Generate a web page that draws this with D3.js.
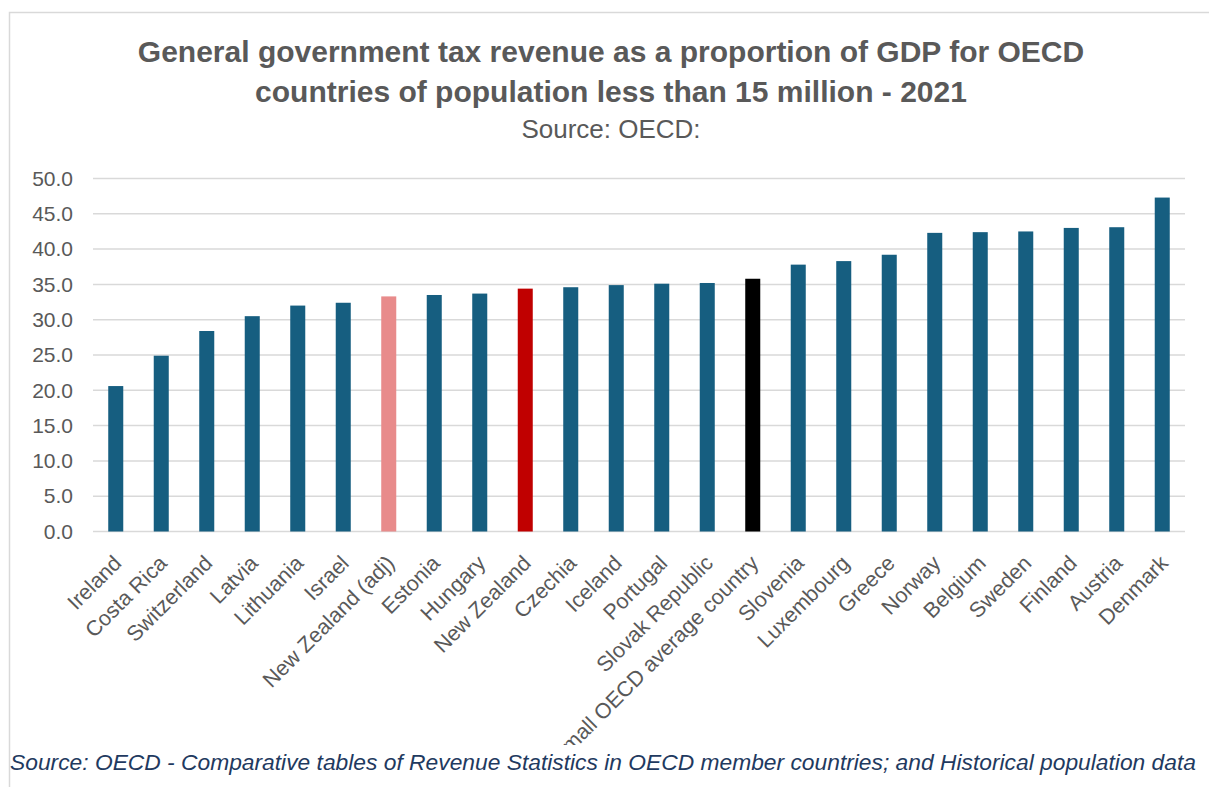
<!DOCTYPE html>
<html>
<head>
<meta charset="utf-8">
<script src="https://cdn.jsdelivr.net/npm/d3@7"></script>
<style>
  html, body { margin: 0; padding: 0; background: #fff; }
  svg { display: block; }
</style>
</head>
<body>
<svg id="chart" width="1209" height="787"></svg>
<script>
const categories = ["Ireland","Costa Rica","Switzerland","Latvia","Lithuania","Israel","New Zealand (adj)","Estonia","Hungary","New Zealand","Czechia","Iceland","Portugal","Slovak Republic","Small OECD average country","Slovenia","Luxembourg","Greece","Norway","Belgium","Sweden","Finland","Austria","Denmark"];
const values = [20.6,24.9,28.4,30.5,32.0,32.4,33.3,33.5,33.7,34.4,34.6,34.9,35.1,35.2,35.8,37.8,38.3,39.2,42.3,42.4,42.5,43.0,43.1,47.3];
const barColors = ["#165e80","#165e80","#165e80","#165e80","#165e80","#165e80","#e88b8b","#165e80","#165e80","#c00000","#165e80","#165e80","#165e80","#165e80","#000000","#165e80","#165e80","#165e80","#165e80","#165e80","#165e80","#165e80","#165e80","#165e80"];
const yTicks = [0,5,10,15,20,25,30,35,40,45,50];
const titleLines = ["General government tax revenue as a proportion of GDP for OECD","countries of population less than 15 million - 2021"];
const subtitle = "Source: OECD:";
const footnote = "Source: OECD - Comparative tables of Revenue Statistics in OECD member countries; and Historical population data";

const svg = d3.select("#chart");
const W = 1209;
const FONT = "Liberation Sans, Arial, sans-serif";

// chart area border
svg.append("rect").attr("x", 9.5).attr("y", 12.5).attr("width", 1240).attr("height", 800)
  .attr("fill", "none").attr("stroke", "#d9d9d9").attr("stroke-width", 1.5);

const clip = svg.append("defs").append("clipPath").attr("id", "clipArea");
clip.append("rect").attr("x", 0).attr("y", 0).attr("width", W).attr("height", 745);

const g = svg.append("g").attr("clip-path", "url(#clipArea)");

// title
g.append("text").attr("x", 611).attr("y", 62).attr("text-anchor", "middle")
  .attr("font-family", FONT).attr("font-weight", "bold")
  .attr("font-size", 30).attr("fill", "#595959")
  .selectAll("tspan").data(titleLines).join("tspan")
  .attr("x", 611).attr("dy", (d, i) => i === 0 ? 0 : 40).text(d => d);

g.append("text").attr("x", 611).attr("y", 138).attr("text-anchor", "middle")
  .attr("font-family", FONT)
  .attr("font-size", 26).attr("fill", "#595959").text(subtitle);

const x = d3.scaleBand().domain(categories).range([93, 1185]).paddingInner(0.67).paddingOuter(0.335);
const y = d3.scaleLinear().domain([0, 50]).range([531.5, 178.5]);

// gridlines
g.append("g").selectAll("line").data(yTicks).join("line")
  .attr("x1", 93).attr("x2", 1185)
  .attr("y1", d => y(d)).attr("y2", d => y(d))
  .attr("stroke", "#d9d9d9").attr("stroke-width", 1.5);

// y axis labels
const yAxis = d3.axisLeft(y).tickValues(yTicks).tickFormat(d3.format(".1f")).tickSize(0).tickPadding(0);
const ya = g.append("g").attr("transform", "translate(73,0)").call(yAxis);
ya.select(".domain").remove();
ya.selectAll("text").attr("font-family", FONT)
  .attr("font-size", 21).attr("fill", "#595959");

// bars
g.append("g").selectAll("rect").data(categories).join("rect")
  .attr("x", d => x(d)).attr("width", x.bandwidth())
  .attr("y", (d, i) => y(values[i])).attr("height", (d, i) => y(0) - y(values[i]))
  .attr("fill", (d, i) => barColors[i]);

// x labels
const xAxis = d3.axisBottom(x).tickSize(0).tickPadding(0);
const xa = g.append("g").attr("transform", `translate(0,${y(0)})`).call(xAxis);
xa.select(".domain").remove();
xa.selectAll("text")
  .attr("font-family", FONT)
  .attr("font-size", 21.5).attr("fill", "#595959")
  .attr("text-anchor", "end")
  .attr("dy", null).attr("y", 0)
  .attr("transform", "translate(7,33) rotate(-45)");

// footnote
svg.append("text").attr("x", 10).attr("y", 770)
  .attr("font-family", FONT).attr("font-style", "italic")
  .attr("font-size", 22.8).attr("fill", "#1f3a60").text(footnote);
</script>
</body>
</html>
